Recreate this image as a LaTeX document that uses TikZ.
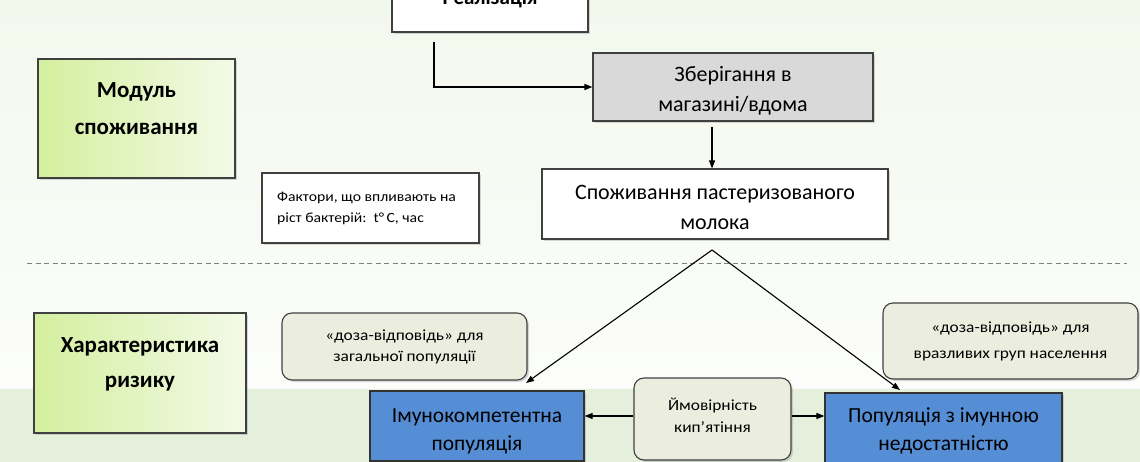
\documentclass[tikz,border=0pt]{standalone}
\usepackage{fontspec}
\setmainfont{Carlito}
\newfontfamily\smallfont[FakeStretch=1.12]{Carlito}
\usetikzlibrary{arrows.meta,shadows}
\definecolor{bandgreen}{RGB}{229,240,220}
\definecolor{topgreen}{RGB}{243,248,237}
\definecolor{topwhite}{RGB}{252,253,251}
\definecolor{lgreenA}{RGB}{212,239,158}
\definecolor{lgreenB}{RGB}{243,250,232}
\definecolor{dozafill}{RGB}{235,238,222}
\definecolor{boxblue}{RGB}{85,142,213}
\definecolor{storegray}{RGB}{217,217,217}
\definecolor{edgegray}{RGB}{64,64,64}
\tikzset{
  shad/.style={drop shadow={shadow xshift=2pt,shadow yshift=-2pt,opacity=0.25,fill=black!60}},
  boxbase/.style={draw=edgegray,line width=1.1pt,shad,inner sep=0pt,align=center,anchor=center},
  whitebox/.style={boxbase,fill=white},
  graybox/.style={boxbase,fill=storegray},
  bluebox/.style={boxbase,fill=boxblue,draw=black!80},
  dozabox/.style={boxbase,fill=dozafill,rounded corners=10pt},
  greenbox/.style={boxbase,left color=lgreenA,right color=lgreenB},
  bigtext/.style={align=center,inner sep=0pt,font=\fontsize{22}{30}\selectfont},
  bluetext/.style={align=center,inner sep=0pt,font=\fontsize{21.5}{28}\selectfont},
  boldtext/.style={align=center,font=\fontsize{23}{37}\selectfont\bfseries},
  conn/.style={line width=1.2pt,-{Triangle[length=8pt,width=6pt]}},
}
\begin{document}
\begin{tikzpicture}[x=1pt,y=-1pt]
\useasboundingbox (0,0) rectangle (1140,462);
\begin{scope}
\clip (0,0) rectangle (1140,462);
% backgrounds
\shade[top color=topgreen,bottom color=topwhite] (0,0) rectangle (1140,389);
\fill[bandgreen] (0,389) rectangle (1140,462);
% dashed separator
\draw[black!50,line width=1pt,dash pattern=on 5pt off 3.5pt] (27,264) -- (1127,264);

% top section
\node[whitebox,minimum width=196pt,minimum height=68pt] (real) at (490,-2) {};
\node[boldtext,font=\fontsize{21}{30}\selectfont\bfseries] (realt) at (490,-1) {Реалізація};
\node[graybox,minimum width=280pt,minimum height=68pt] (store) at (733,87) {};
\node[bigtext] (storet) at (733,91) {Зберігання в\\магазині/вдома};
\node[whitebox,minimum width=346pt,minimum height=70pt] (cons) at (715,204) {};
\node[bigtext] (const) at (715,207.5) {Споживання пастеризованого\\молока};
\node[greenbox,minimum width=197pt,minimum height=119pt] (modul) at (136.5,118.5) {};
\node[boldtext] (modult) at (136.5,108.5) {Модуль\\споживання};
\node[whitebox,minimum width=217pt,minimum height=70pt] (fact) at (370.5,208) {};
\node[font=\fontsize{14}{21}\smallfont,align=left,anchor=west,inner sep=0pt] (factt) at (277,208) {Фактори, що впливають на\\ріст бактерій:\ \ t°\,C, час};

% bottom section
\node[greenbox,minimum width=212pt,minimum height=120pt] (risk) at (140,373) {};
\node[boldtext,font=\fontsize{23}{35}\selectfont\bfseries] (riskt) at (140,364.5) {Характеристика\\ризику};
\node[dozabox,font=\fontsize{15.5}{21}\smallfont,minimum width=245pt,minimum height=67pt] (dozaL) at (404.5,346.5) {«доза-відповідь» для\\загальної популяції};
\node[dozabox,font=\fontsize{15.5}{26}\smallfont,minimum width=255pt,minimum height=76pt] (dozaR) at (1010.5,341) {«доза-відповідь» для\\вразливих груп населення};
\node[bluebox,minimum width=214pt,minimum height=70pt] (imuno) at (477,426) {};
\node[bluetext] (imunot) at (477,431) {Імунокомпетентна\\популяція};
\node[dozabox,minimum width=157pt,minimum height=82pt] (prob) at (712.5,419) {};
\node[font=\fontsize{15.5}{22}\smallfont,align=center] (probt) at (712.5,415) {Ймовірність\\кип’ятіння};
\node[bluebox,minimum width=237pt,minimum height=73pt] (pop) at (943.5,429.5) {};
\node[bluetext] (popt) at (943.5,431) {Популяція з імунною\\недостатністю};

% connectors
\coordinate (realfoot) at (434,42);
\draw[conn] (realfoot) |- (store.west);
\coordinate (vx) at (712,127);
\draw[conn] (vx) -- (vx |- cons.north);
\coordinate (apex) at (712,250);
\coordinate (tipL) at (526,383);
\coordinate (tipR) at (900,390);
\draw[conn,line width=1.1pt] (apex) -- (tipL);
\draw[conn,line width=1.1pt] (apex) -- (tipR);
\coordinate (ay) at (0,416);
\draw[conn] (prob.west |- ay) -- (imuno.east |- ay);
\draw[conn] (prob.east |- ay) -- (pop.west |- ay);
\end{scope}
\end{tikzpicture}
\end{document}
